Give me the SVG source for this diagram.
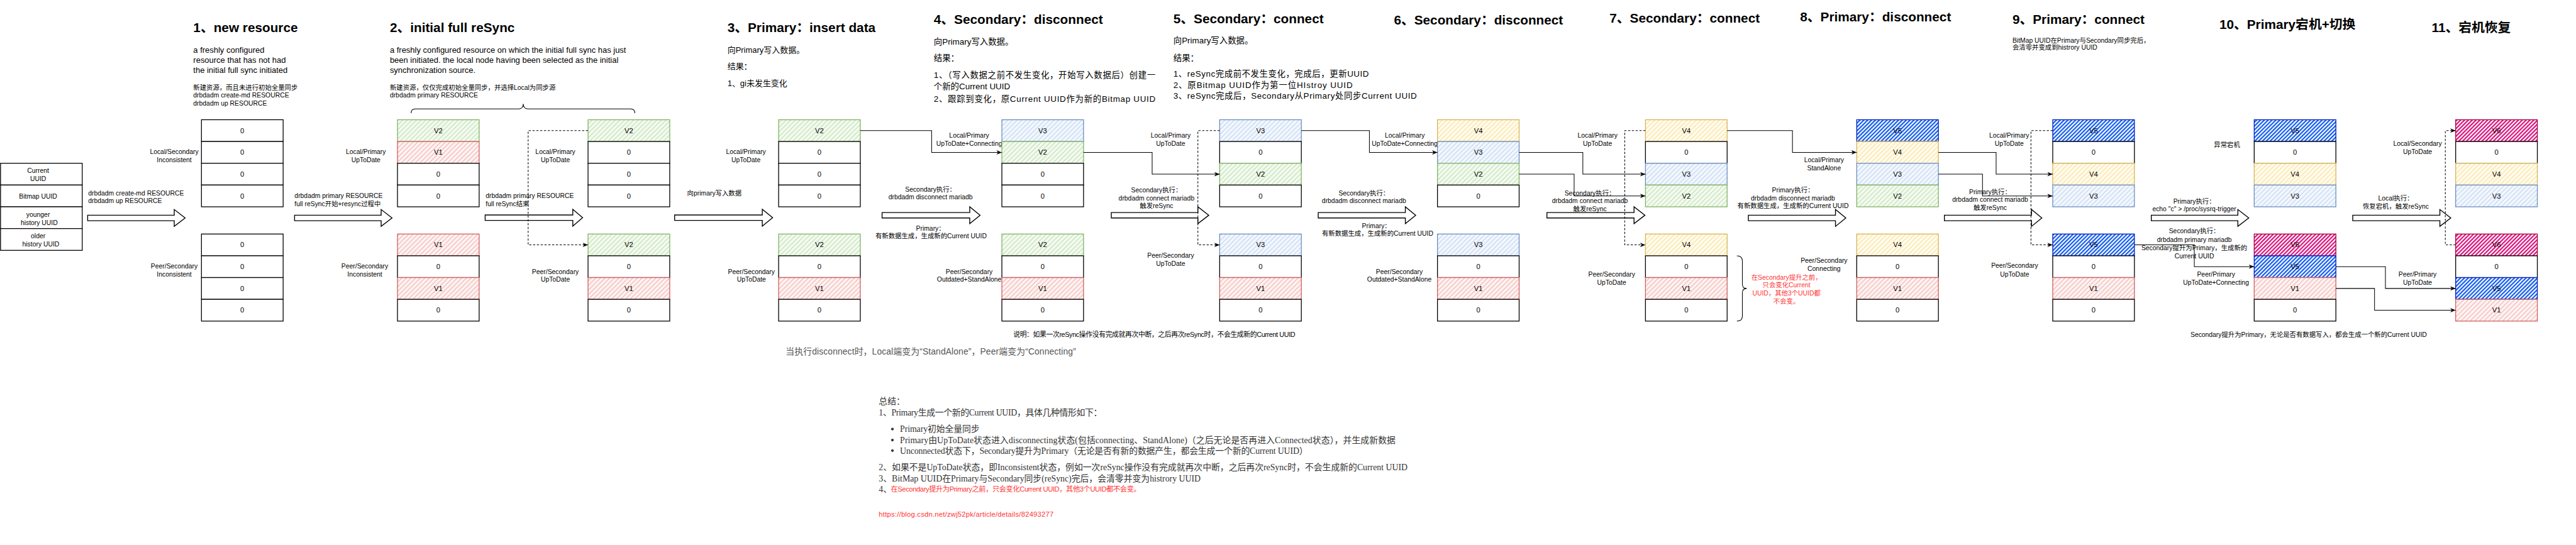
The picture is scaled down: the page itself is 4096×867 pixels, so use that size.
<svg xmlns="http://www.w3.org/2000/svg" width="4096" height="867" viewBox="0 0 4096 867">
<defs>
<style>
text{font-family:'Liberation Sans','Noto Sans CJK SC',sans-serif;fill:#000}
.h{font-size:24px;font-weight:bold}
.p{font-size:15px}
.q{font-size:15.5px}
.s{font-size:12px}
.m{text-anchor:middle}
.ct{font-size:13px;text-anchor:middle}
.w{fill:#fff;stroke:#000;stroke-width:1.5}
.g{fill:url(#hg);stroke:#82b366;stroke-width:1.5}
.r{fill:url(#hr);stroke:#d06060;stroke-width:1.5}
.b{fill:url(#hb);stroke:#6c8ebf;stroke-width:1.5}
.y{fill:url(#hy);stroke:#d6b656;stroke-width:1.5}
.B{fill:url(#hB);stroke:#001dbc;stroke-width:1.5}
.M{fill:url(#hM);stroke:#a50040;stroke-width:1.5}
.cn{fill:none;stroke:#000;stroke-width:1.2}
.dc{fill:none;stroke:#000;stroke-width:1.2;stroke-dasharray:4 3}
.ba{fill:#fff;stroke:#000;stroke-width:1.6}
.sm{font-family:'Liberation Serif','Noto Sans CJK SC',serif;font-size:16px;fill:#333}
.red{fill:#ff3333}
.note{font-size:16px;fill:#555}
</style>
<pattern id="hg" patternUnits="userSpaceOnUse" width="6" height="6" patternTransform="rotate(45)"><rect width="6" height="6" fill="#f4faf1"/><line x1="1" y1="0" x2="1" y2="6" stroke="#c3e2b4" stroke-width="1.5"/></pattern>
<pattern id="hr" patternUnits="userSpaceOnUse" width="6" height="6" patternTransform="rotate(45)"><rect width="6" height="6" fill="#fdf3f2"/><line x1="1" y1="0" x2="1" y2="6" stroke="#f3b8b5" stroke-width="1.5"/></pattern>
<pattern id="hb" patternUnits="userSpaceOnUse" width="6" height="6" patternTransform="rotate(45)"><rect width="6" height="6" fill="#f3f7fd"/><line x1="1" y1="0" x2="1" y2="6" stroke="#c3d7f3" stroke-width="1.5"/></pattern>
<pattern id="hy" patternUnits="userSpaceOnUse" width="6" height="6" patternTransform="rotate(45)"><rect width="6" height="6" fill="#fffbee"/><line x1="1" y1="0" x2="1" y2="6" stroke="#fbe2a0" stroke-width="1.5"/></pattern>
<pattern id="hB" patternUnits="userSpaceOnUse" width="5" height="5" patternTransform="rotate(45)"><rect width="5" height="5" fill="#fff"/><line x1="1.5" y1="0" x2="1.5" y2="5" stroke="#0050ef" stroke-width="2.4"/></pattern>
<pattern id="hM" patternUnits="userSpaceOnUse" width="5" height="5" patternTransform="rotate(45)"><rect width="5" height="5" fill="#fff"/><line x1="1.5" y1="0" x2="1.5" y2="5" stroke="#d80073" stroke-width="2.4"/></pattern>
<marker id="ah" viewBox="0 0 10 8" refX="10" refY="4" markerWidth="10" markerHeight="8" markerUnits="userSpaceOnUse" orient="auto"><path d="M0,0 L10,4 L0,8 L3,4 Z" fill="#000"/></marker>
</defs>
<rect width="4096" height="867" fill="#fff"/>
<g transform="scale(0.865778)">

<g id="legend">
<rect class="w" x="1" y="300" width="150" height="40"/><rect class="w" x="1" y="340" width="150" height="40"/><rect class="w" x="1" y="380" width="150" height="40"/><rect class="w" x="1" y="420" width="150" height="40"/>
<text class="s m" x="70" y="317.5">Current</text><text class="s m" x="70" y="333">UUID</text>
<text class="s m" x="70" y="365">Bitmap UUID</text>
<text class="s m" x="70" y="398.5">younger</text><text class="s m" x="72" y="413">history UUID</text>
<text class="s m" x="70" y="438">older</text><text class="s m" x="75" y="453">history UUID</text>
</g>

<g id="sec1-text">
<text class="h" x="355" y="58.5">1、new resource</text>
<text class="p" x="355" y="96.5">a freshly configured</text>
<text class="p" x="355" y="115">resource that has not had</text>
<text class="p" x="355" y="134.5">the initial full sync initiated</text>
<text class="s" x="355" y="165">新建资源，而且未进行初始全量同步</text>
<text class="s" x="355" y="179.3">drbdadm create-md RESOURCE</text>
<text class="s" x="355" y="194.3">drbdadm up RESOURCE</text>
<text class="s m" x="320" y="283.3">Local/Secondary</text><text class="s m" x="320" y="298.3">Inconsistent</text>
<text class="s m" x="320" y="493.3">Peer/Secondary</text><text class="s m" x="320" y="508.3">Inconsistent</text>
<text class="s" x="162" y="359.5">drbdadm create-md RESOURCE</text>
<text class="s" x="162" y="373.5">drbdadm up RESOURCE</text>
</g>

<g id="stack1">
<rect class="w" x="370" y="220" width="150" height="40"/><rect class="w" x="370" y="260" width="150" height="40"/><rect class="w" x="370" y="300" width="150" height="40"/><rect class="w" x="370" y="340" width="150" height="40"/>
<text class="ct" x="445" y="244.5">0</text><text class="ct" x="445" y="284.5">0</text><text class="ct" x="445" y="324.5">0</text><text class="ct" x="445" y="364.5">0</text>
<rect class="w" x="370" y="430" width="150" height="40"/><rect class="w" x="370" y="470" width="150" height="40"/><rect class="w" x="370" y="510" width="150" height="40"/><rect class="w" x="370" y="550" width="150" height="40"/>
<text class="ct" x="445" y="454.5">0</text><text class="ct" x="445" y="494.5">0</text><text class="ct" x="445" y="534.5">0</text><text class="ct" x="445" y="574.5">0</text>
</g>

<g id="sec2-text">
<text class="h" x="716" y="58.5">2、initial full reSync</text>
<text class="p" x="716" y="96.5">a freshly configured resource on which the initial full sync has just</text>
<text class="p" x="716" y="115">been initiated. the local node having been selected as the initial</text>
<text class="p" x="716" y="134.5">synchronization source.</text>
<text class="s" x="716" y="165">新建资源，仅仅完成初始全量同步，并选择Local为同步源</text>
<text class="s" x="716" y="179.3">drbdadm primary RESOURCE</text>
<text class="s m" x="672" y="283.3">Local/Primary</text><text class="s m" x="672" y="298.3">UpToDate</text>
<text class="s m" x="670" y="493.3">Peer/Secondary</text><text class="s m" x="670" y="508.3">Inconsistent</text>
<text class="s" x="541" y="364.3">drbdadm primary RESOURCE</text>
<text class="s" x="541" y="378.3">full reSync开始+resync过程中</text>
<text class="s" x="892" y="364.3">drbdadm primary RESOURCE</text>
<text class="s" x="892" y="378.3">full reSync结束</text>
<text class="s m" x="1020" y="283.3">Local/Primary</text><text class="s m" x="1020" y="298.3">UpToDate</text>
<text class="s m" x="1020" y="503.3">Peer/Secondary</text><text class="s m" x="1020" y="517.3">UpToDate</text>
<path class="cn" d="M755,208 Q755,200 763,200 L953,200 Q961,200 961,191 Q961,200 969,200 L1158,200 Q1166,200 1166,208"/>
</g>

<g id="stack2a">
<rect class="g" x="730" y="220" width="150" height="40"/><rect class="r" x="730" y="260" width="150" height="40"/><rect class="w" x="730" y="300" width="150" height="40"/><rect class="w" x="730" y="340" width="150" height="40"/>
<text class="ct" x="805" y="244.5">V2</text><text class="ct" x="805" y="284.5">V1</text><text class="ct" x="805" y="324.5">0</text><text class="ct" x="805" y="364.5">0</text>
<rect class="r" x="730" y="430" width="150" height="40"/><rect class="w" x="730" y="470" width="150" height="40"/><rect class="r" x="730" y="510" width="150" height="40"/><rect class="w" x="730" y="550" width="150" height="40"/>
<text class="ct" x="805" y="454.5">V1</text><text class="ct" x="805" y="494.5">0</text><text class="ct" x="805" y="534.5">V1</text><text class="ct" x="805" y="574.5">0</text>
</g>

<g id="stack2b">
<rect class="g" x="1080" y="220" width="150" height="40"/><rect class="w" x="1080" y="260" width="150" height="40"/><rect class="w" x="1080" y="300" width="150" height="40"/><rect class="w" x="1080" y="340" width="150" height="40"/>
<text class="ct" x="1155" y="244.5">V2</text><text class="ct" x="1155" y="284.5">0</text><text class="ct" x="1155" y="324.5">0</text><text class="ct" x="1155" y="364.5">0</text>
<rect class="g" x="1080" y="430" width="150" height="40"/><rect class="w" x="1080" y="470" width="150" height="40"/><rect class="r" x="1080" y="510" width="150" height="40"/><rect class="w" x="1080" y="550" width="150" height="40"/>
<text class="ct" x="1155" y="454.5">V2</text><text class="ct" x="1155" y="494.5">0</text><text class="ct" x="1155" y="534.5">V1</text><text class="ct" x="1155" y="574.5">0</text>
</g>

<g id="sec3-text">
<text class="h" x="1336" y="58.5">3、Primary：insert data</text>
<text class="p" x="1336" y="97">向Primary写入数据。</text>
<text class="p" x="1336" y="126.5">结果：</text>
<text class="p" x="1336" y="158.5">1、gi未发生变化</text>
<text class="s" x="1262" y="359.5">向primary写入数据</text>
<text class="s m" x="1370" y="283.3">Local/Primary</text><text class="s m" x="1370" y="298.3">UpToDate</text>
<text class="s m" x="1380" y="503.3">Peer/Secondary</text><text class="s m" x="1380" y="517.3">UpToDate</text>
<text class="note" x="1443" y="652" textLength="533">当执行disconnect时，Local端变为“StandAlone”，Peer端变为“Connecting”</text>
</g>

<g id="stack3">
<rect class="g" x="1430" y="220" width="150" height="40"/><rect class="w" x="1430" y="260" width="150" height="40"/><rect class="w" x="1430" y="300" width="150" height="40"/><rect class="w" x="1430" y="340" width="150" height="40"/>
<text class="ct" x="1505" y="244.5">V2</text><text class="ct" x="1505" y="284.5">0</text><text class="ct" x="1505" y="324.5">0</text><text class="ct" x="1505" y="364.5">0</text>
<rect class="g" x="1430" y="430" width="150" height="40"/><rect class="w" x="1430" y="470" width="150" height="40"/><rect class="r" x="1430" y="510" width="150" height="40"/><rect class="w" x="1430" y="550" width="150" height="40"/>
<text class="ct" x="1505" y="454.5">V2</text><text class="ct" x="1505" y="494.5">0</text><text class="ct" x="1505" y="534.5">V1</text><text class="ct" x="1505" y="574.5">0</text>
</g>

<g id="sec4-text">
<text class="h" x="1715" y="43.5">4、Secondary：disconnect</text>
<text class="q" x="1715" y="82.5">向Primary写入数据。</text>
<text class="q" x="1715" y="112.5">结果：</text>
<text class="q" x="1715" y="143" textLength="407">1、（写入数据之前不发生变化，开始写入数据后）创建一</text>
<text class="q" x="1715" y="163.5">个新的Current UUID</text>
<text class="q" x="1715" y="187" textLength="407">2、跟踪到变化，原Current UUID作为新的Bitmap UUID</text>
<text class="s m" x="1780" y="253.3">Local/Primary</text><text class="s m" x="1780" y="268.3">UpToDate+Connecting</text>
<text class="s m" x="1709" y="352.3">Secondary执行：</text><text class="s m" x="1709" y="366.3">drbdadm disconnect mariadb</text>
<text class="s m" x="1709" y="424.3">Primary：</text><text class="s m" x="1710" y="437.8">有新数据生成，生成新的Current UUID</text>
<text class="s m" x="1780" y="503.3">Peer/Secondary</text><text class="s m" x="1780" y="517.3">Outdated+StandAlone</text>
</g>

<g id="stack4">
<rect class="b" x="1840" y="220" width="150" height="40"/><rect class="g" x="1840" y="260" width="150" height="40"/><rect class="w" x="1840" y="300" width="150" height="40"/><rect class="w" x="1840" y="340" width="150" height="40"/>
<text class="ct" x="1915" y="244.5">V3</text><text class="ct" x="1915" y="284.5">V2</text><text class="ct" x="1915" y="324.5">0</text><text class="ct" x="1915" y="364.5">0</text>
<rect class="g" x="1840" y="430" width="150" height="40"/><rect class="w" x="1840" y="470" width="150" height="40"/><rect class="r" x="1840" y="510" width="150" height="40"/><rect class="w" x="1840" y="550" width="150" height="40"/>
<text class="ct" x="1915" y="454.5">V2</text><text class="ct" x="1915" y="494.5">0</text><text class="ct" x="1915" y="534.5">V1</text><text class="ct" x="1915" y="574.5">0</text>
</g>

<g id="sec5-text">
<text class="h" x="2155" y="42.5">5、Secondary：connect</text>
<text class="q" x="2155" y="80">向Primary写入数据。</text>
<text class="q" x="2155" y="111.5">结果：</text>
<text class="q" x="2155" y="141.5" textLength="359">1、reSync完成前不发生变化，完成后，更新UUID</text>
<text class="q" x="2155" y="161.5" textLength="329">2、原Bitmap UUID作为第一位HIstroy UUID</text>
<text class="q" x="2155" y="181" textLength="447">3、reSync完成后，Secondary从Primary处同步Current UUID</text>
<text class="s m" x="2150" y="253.3">Local/Primary</text><text class="s m" x="2150" y="268.3">UpToDate</text>
<text class="s m" x="2124" y="353.8">Secondary执行：</text><text class="s m" x="2124" y="368.3">drbdadm connect mariadb</text><text class="s m" x="2124" y="382.9">触发reSync</text>
<text class="s m" x="2150" y="473.3">Peer/Secondary</text><text class="s m" x="2150" y="488.3">UpToDate</text>
<text x="1861" y="619.5" font-size="12.5" textLength="518">说明：如果一次reSync操作没有完成就再次中断，之后再次reSync时，不会生成新的Current UUID</text>
</g>

<g id="stack5">
<rect class="b" x="2240" y="220" width="150" height="40"/><rect class="w" x="2240" y="260" width="150" height="40"/><rect class="g" x="2240" y="300" width="150" height="40"/><rect class="w" x="2240" y="340" width="150" height="40"/>
<text class="ct" x="2315" y="244.5">V3</text><text class="ct" x="2315" y="284.5">0</text><text class="ct" x="2315" y="324.5">V2</text><text class="ct" x="2315" y="364.5">0</text>
<rect class="b" x="2240" y="430" width="150" height="40"/><rect class="w" x="2240" y="470" width="150" height="40"/><rect class="r" x="2240" y="510" width="150" height="40"/><rect class="w" x="2240" y="550" width="150" height="40"/>
<text class="ct" x="2315" y="454.5">V3</text><text class="ct" x="2315" y="494.5">0</text><text class="ct" x="2315" y="534.5">V1</text><text class="ct" x="2315" y="574.5">0</text>
</g>

<g id="sec6-text">
<text class="h" x="2560" y="44.5">6、Secondary：disconnect</text>
<text class="s m" x="2580" y="253.3">Local/Primary</text><text class="s m" x="2580" y="268.3">UpToDate+Connecting</text>
<text class="s m" x="2505" y="359.3">Secondary执行：</text><text class="s m" x="2505" y="373.3">drbdadm disconnect mariadb</text>
<text class="s m" x="2528" y="419.3">Primary：</text><text class="s m" x="2530" y="432.9">有新数据生成，生成新的Current UUID</text>
<text class="s m" x="2570" y="503.3">Peer/Secondary</text><text class="s m" x="2570" y="517.3">Outdated+StandAlone</text>
</g>

<g id="stack6">
<rect class="y" x="2640" y="220" width="150" height="40"/><rect class="b" x="2640" y="260" width="150" height="40"/><rect class="g" x="2640" y="300" width="150" height="40"/><rect class="w" x="2640" y="340" width="150" height="40"/>
<text class="ct" x="2715" y="244.5">V4</text><text class="ct" x="2715" y="284.5">V3</text><text class="ct" x="2715" y="324.5">V2</text><text class="ct" x="2715" y="364.5">0</text>
<rect class="b" x="2640" y="430" width="150" height="40"/><rect class="w" x="2640" y="470" width="150" height="40"/><rect class="r" x="2640" y="510" width="150" height="40"/><rect class="w" x="2640" y="550" width="150" height="40"/>
<text class="ct" x="2715" y="454.5">V3</text><text class="ct" x="2715" y="494.5">0</text><text class="ct" x="2715" y="534.5">V1</text><text class="ct" x="2715" y="574.5">0</text>
</g>

<g id="sec7-text">
<text class="h" x="2956" y="42">7、Secondary：connect</text>
<text class="s m" x="2934" y="253.3">Local/Primary</text><text class="s m" x="2934" y="268.3">UpToDate</text>
<text class="s m" x="2920" y="359.3">Secondary执行：</text><text class="s m" x="2920" y="373.3">drbdadm connect mariadb</text><text class="s m" x="2920" y="388.3">触发reSync</text>
<text class="s m" x="2960" y="508">Peer/Secondary</text><text class="s m" x="2960" y="523">UpToDate</text>
<path class="cn" d="M3190,470 Q3200,470 3200,480 L3200,522 Q3200,530 3208,530 Q3200,530 3200,538 L3200,580 Q3200,590 3190,590"/>
<text class="s m red" x="3281" y="514.3">在Secondary提升之前，</text>
<text class="s m red" x="3281" y="528">只会变化Current</text>
<text class="s m red" x="3281" y="543.3">UUID，其他3个UUID都</text>
<text class="s m red" x="3281" y="558">不会变。</text>
</g>

<g id="stack7">
<rect class="y" x="3022" y="220" width="150" height="40"/><rect class="w" x="3022" y="260" width="150" height="40"/><rect class="b" x="3022" y="300" width="150" height="40"/><rect class="g" x="3022" y="340" width="150" height="40"/>
<text class="ct" x="3097" y="244.5">V4</text><text class="ct" x="3097" y="284.5">0</text><text class="ct" x="3097" y="324.5">V3</text><text class="ct" x="3097" y="364.5">V2</text>
<rect class="y" x="3022" y="430" width="150" height="40"/><rect class="w" x="3022" y="470" width="150" height="40"/><rect class="r" x="3022" y="510" width="150" height="40"/><rect class="w" x="3022" y="550" width="150" height="40"/>
<text class="ct" x="3097" y="454.5">V4</text><text class="ct" x="3097" y="494.5">0</text><text class="ct" x="3097" y="534.5">V1</text><text class="ct" x="3097" y="574.5">0</text>
</g>

<g id="sec8-text">
<text class="h" x="3306" y="39">8、Primary：disconnect</text>
<text class="s m" x="3350" y="298.3">Local/Primary</text><text class="s m" x="3350" y="312.8">StandAlone</text>
<text class="s m" x="3293" y="353.8">Primary执行：</text><text class="s m" x="3293" y="368.3">drbdadm disconnect mariadb</text><text class="s m" x="3293" y="382.9">有新数据生成，生成新的Current UUID</text>
<text class="s m" x="3350" y="482.9">Peer/Secondary</text><text class="s m" x="3350" y="498">Connecting</text>
</g>

<g id="stack8">
<rect class="B" x="3410" y="220" width="150" height="40"/><rect class="y" x="3410" y="260" width="150" height="40"/><rect class="b" x="3410" y="300" width="150" height="40"/><rect class="g" x="3410" y="340" width="150" height="40"/>
<text class="ct" x="3485" y="244.5">V5</text><text class="ct" x="3485" y="284.5">V4</text><text class="ct" x="3485" y="324.5">V3</text><text class="ct" x="3485" y="364.5">V2</text>
<rect class="y" x="3410" y="430" width="150" height="40"/><rect class="w" x="3410" y="470" width="150" height="40"/><rect class="r" x="3410" y="510" width="150" height="40"/><rect class="w" x="3410" y="550" width="150" height="40"/>
<text class="ct" x="3485" y="454.5">V4</text><text class="ct" x="3485" y="494.5">0</text><text class="ct" x="3485" y="534.5">V1</text><text class="ct" x="3485" y="574.5">0</text>
</g>

<g id="sec9-text">
<text class="h" x="3696" y="44.2">9、Primary：connect</text>
<text class="s" x="3696" y="78">BitMap UUID在Primary与Secondary同步完后，</text>
<text class="s" x="3696" y="91.8">会清零并变成到histrory UUID</text>
<text class="s m" x="3690" y="253.3">Local/Primary</text><text class="s m" x="3690" y="268.3">UpToDate</text>
<text class="s m" x="3655" y="357">Primary执行：</text><text class="s m" x="3655" y="371.3">drbdadm connect mariadb</text><text class="s m" x="3655" y="386">触发reSync</text>
<text class="s m" x="3700" y="492.3">Peer/Secondary</text><text class="s m" x="3700" y="507.9">UpToDate</text>
</g>

<g id="stack9">
<rect class="B" x="3770" y="220" width="150" height="40"/><rect class="w" x="3770" y="260" width="150" height="40"/><rect class="y" x="3770" y="300" width="150" height="40"/><rect class="b" x="3770" y="340" width="150" height="40"/>
<text class="ct" x="3845" y="244.5">V5</text><text class="ct" x="3845" y="284.5">0</text><text class="ct" x="3845" y="324.5">V4</text><text class="ct" x="3845" y="364.5">V3</text>
<rect class="B" x="3770" y="430" width="150" height="40"/><rect class="w" x="3770" y="470" width="150" height="40"/><rect class="r" x="3770" y="510" width="150" height="40"/><rect class="w" x="3770" y="550" width="150" height="40"/>
<text class="ct" x="3845" y="454.5">V5</text><text class="ct" x="3845" y="494.5">0</text><text class="ct" x="3845" y="534.5">V1</text><text class="ct" x="3845" y="574.5">0</text>
</g>

<g id="sec10-text">
<text class="h" x="4076" y="52.7">10、Primary宕机+切换</text>
<text class="s m" x="4090" y="270">异常宕机</text>
<text class="s m" x="4030" y="374">Primary执行：</text><text class="s m" x="4030" y="388.3">echo "c" &gt; /proc/sysrq-trigger</text>
<text class="s m" x="4030" y="429">Secondary执行：</text><text class="s m" x="4030" y="444.3">drbdadm primary mariadb</text><text class="s m" x="4030" y="460">Secondary提升为Primary，生成新的</text><text class="s m" x="4030" y="475.3">Current UUID</text>
<text class="s m" x="4070" y="508">Peer/Primary</text><text class="s m" x="4070" y="523">UpToDate+Connecting</text>
<text class="s" x="4023" y="619" textLength="434">Secondary提升为Primary，无论是否有数据写入，都会生成一个新的Current UUID</text>
</g>

<g id="stack10">
<rect class="B" x="4140" y="220" width="150" height="40"/><rect class="w" x="4140" y="260" width="150" height="40"/><rect class="y" x="4140" y="300" width="150" height="40"/><rect class="b" x="4140" y="340" width="150" height="40"/>
<text class="ct" x="4215" y="244.5">V5</text><text class="ct" x="4215" y="284.5">0</text><text class="ct" x="4215" y="324.5">V4</text><text class="ct" x="4215" y="364.5">V3</text>
<rect class="M" x="4140" y="430" width="150" height="40"/><rect class="B" x="4140" y="470" width="150" height="40"/><rect class="r" x="4140" y="510" width="150" height="40"/><rect class="w" x="4140" y="550" width="150" height="40"/>
<text class="ct" x="4215" y="454.5">V6</text><text class="ct" x="4215" y="494.5">V5</text><text class="ct" x="4215" y="534.5">V1</text><text class="ct" x="4215" y="574.5">0</text>
</g>

<g id="sec11-text">
<text class="h" x="4466" y="59.4">11、宕机恢复</text>
<text class="s m" x="4440" y="268.1">Local/Secondary</text><text class="s m" x="4440" y="283.3">UpToDate</text>
<text class="s m" x="4400" y="368">Local执行：</text><text class="s m" x="4400" y="383">恢复宕机，触发reSync</text>
<text class="s m" x="4440" y="508">Peer/Primary</text><text class="s m" x="4440" y="523">UpToDate</text>
</g>

<g id="stack11">
<rect class="M" x="4510" y="220" width="150" height="40"/><rect class="w" x="4510" y="260" width="150" height="40"/><rect class="y" x="4510" y="300" width="150" height="40"/><rect class="b" x="4510" y="340" width="150" height="40"/>
<text class="ct" x="4585" y="244.5">V6</text><text class="ct" x="4585" y="284.5">0</text><text class="ct" x="4585" y="324.5">V4</text><text class="ct" x="4585" y="364.5">V3</text>
<rect class="M" x="4510" y="430" width="150" height="40"/><rect class="w" x="4510" y="470" width="150" height="40"/><rect class="B" x="4510" y="510" width="150" height="40"/><rect class="r" x="4510" y="550" width="150" height="40"/>
<text class="ct" x="4585" y="454.5">V6</text><text class="ct" x="4585" y="494.5">0</text><text class="ct" x="4585" y="534.5">V5</text><text class="ct" x="4585" y="574.5">V1</text>
</g>

<g id="connectors">
<path class="ba" d="M161,395.5 H320 V385 L340,400.5 L320,416 V405.5 H161 Z"/>
<path class="ba" d="M541,395.5 H700 V385 L720,400.5 L700,416 V405.5 H541 Z"/>
<path class="ba" d="M891,395 H1052 V384.5 L1070,400 L1052,415.5 V405 H891 Z"/>
<path class="ba" d="M1239,395 H1400 V384.5 L1419,400 L1400,415.5 V405 H1239 Z"/>
<path class="ba" d="M1620,390.5 H1781 V380 L1800,395.5 L1781,411 V400.5 H1620 Z"/>
<path class="ba" d="M2041,390.5 H2200 V380 L2220,395.5 L2200,411 V400.5 H2041 Z"/>
<path class="ba" d="M2421,390.5 H2581 V380 L2600,395.5 L2581,411 V400.5 H2421 Z"/>
<path class="ba" d="M2841,390.5 H3001 V380 L3021,395.5 L3001,411 V400.5 H2841 Z"/>
<path class="ba" d="M3211,395.5 H3371 V385 L3390,400.5 L3371,416 V405.5 H3211 Z"/>
<path class="ba" d="M3571,395.5 H3731 V385 L3750,400.5 L3731,416 V405.5 H3571 Z"/>
<path class="ba" d="M3951,395.5 H4110 V385 L4130,400.5 L4110,416 V405.5 H3951 Z"/>
<path class="ba" d="M4321,395.5 H4481 V385 L4501,400.5 L4481,416 V405.5 H4321 Z"/>
<path class="dc" marker-end="url(#ah)" d="M1080,240 H970 V450 H1080"/>
<path class="dc" marker-end="url(#ah)" d="M2240,240 H2200 V450 H2240"/>
<path class="dc" marker-end="url(#ah)" d="M3022,240 H2984 V450 H3022"/>
<path class="dc" marker-end="url(#ah)" d="M3770,240 H3730 V450 H3770"/>
<path class="dc" marker-end="url(#ah)" d="M4510,450 H4491 V240 H4510"/>
<path class="cn" marker-end="url(#ah)" d="M1580,240 H1711 V280 H1840"/>
<path class="cn" marker-end="url(#ah)" d="M1990,280 H2116 V320 H2240"/>
<path class="cn" marker-end="url(#ah)" d="M2390,240 H2515 V280 H2640"/>
<path class="cn" marker-end="url(#ah)" d="M2790,280 H2907 V320 H3022"/>
<path class="cn" marker-end="url(#ah)" d="M2790,320 H2891 V360 H3022"/>
<path class="cn" marker-end="url(#ah)" d="M3172,240 H3292 V280 H3410"/>
<path class="cn" marker-end="url(#ah)" d="M3560,280 H3666 V320 H3770"/>
<path class="cn" marker-end="url(#ah)" d="M3560,320 H3641 V360 H3770"/>
<path class="cn" marker-end="url(#ah)" d="M3920,450 H4030 V490 H4140"/>
<path class="cn" marker-end="url(#ah)" d="M4290,490 H4381 V530 H4510"/>
<path class="cn" marker-end="url(#ah)" d="M4290,530 H4361 V570 H4510"/>
</g>

<g id="summary">
<text class="sm" x="1614" y="742.5">总结：</text>
<text class="sm" x="1614" y="763.5" textLength="410">1、Primary生成一个新的Current UUID，具体几种情形如下：</text>
<circle cx="1639" cy="788.4" r="2.5" fill="#333"/>
<text class="sm" x="1653" y="794" textLength="146">Primary初始全量同步</text>
<circle cx="1639" cy="808.6" r="2.5" fill="#333"/>
<text class="sm" x="1653" y="814" textLength="910">Primary由UpToDate状态进入disconnecting状态(包括connecting、StandAlone)（之后无论是否再进入Connected状态），并生成新数据</text>
<circle cx="1639" cy="828" r="2.5" fill="#333"/>
<text class="sm" x="1653" y="833.5" textLength="749">Unconnected状态下，Secondary提升为Primary（无论是否有新的数据产生，都会生成一个新的Current UUID）</text>
<text class="sm" x="1614" y="864.5" textLength="971">2、如果不是UpToDate状态，即Inconsistent状态，例如一次reSync操作没有完成就再次中断，之后再次reSync时，不会生成新的Current UUID</text>
<text class="sm" x="1614" y="884.5" textLength="591">3、BitMap UUID在Primary与Secondary同步(reSync)完后，会清零并变为histrory UUID</text>
<text class="sm" x="1614" y="904">4、</text>
<text class="red" x="1636" y="903.5" font-size="13" textLength="459">在Secondary提升为Primary之前，只会变化Current UUID，其他3个UUID都不会变。</text>
<text class="red" x="1614" y="949" font-size="13" textLength="321">https://blog.csdn.net/zwj52pk/article/details/82493277</text>
</g>

</g>
</svg>
